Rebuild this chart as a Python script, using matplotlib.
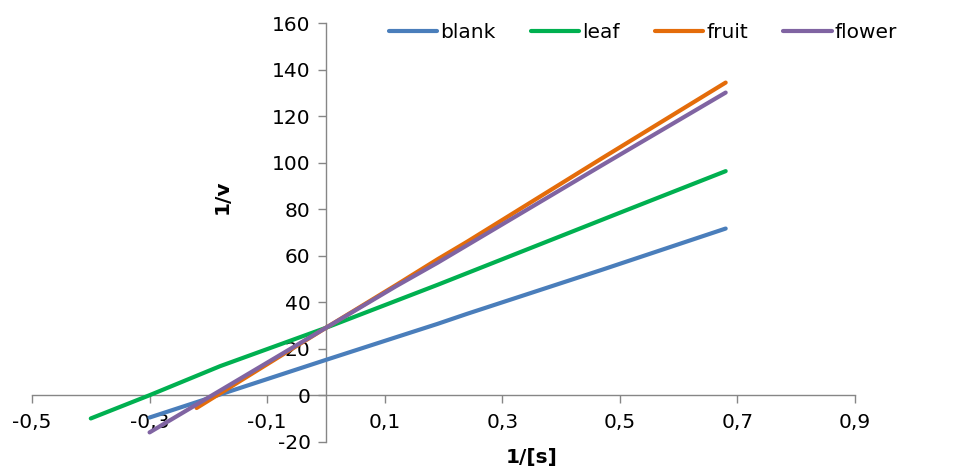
import matplotlib
matplotlib.use("Agg")
import matplotlib.pyplot as plt
from matplotlib.ticker import FixedLocator, FuncFormatter

plt.rcParams['font.family'] = ['DejaVu Sans']

# data
blank_x = [-0.30, 0.0, 0.12, 0.19, 0.24, 0.47, 0.68]
blank_y = [-9.6, 15.2, 25.0, 30.7, 35.0, 54.0, 71.7]

leaf_x = [-0.40, -0.30, -0.18, 0.0, 0.19, 0.47, 0.50, 0.68]
leaf_y = [-10.0, 0.0, 12.5, 29.0, 47.5, 75.5, 78.5, 96.4]

fruit_x = [-0.22, 0.0, 0.12, 0.19, 0.24, 0.47, 0.68]
fruit_y = [-5.5, 29.0, 47.5, 58.5, 66.0, 102.0, 134.5]

flower_x = [-0.30, 0.0, 0.12, 0.19, 0.24, 0.47, 0.68]
flower_y = [-16.0, 29.0, 47.0, 57.0, 64.5, 99.0, 130.2]

series_names = ["blank", "leaf", "fruit", "flower"]
x_ticks = [-0.5, -0.3, -0.1, 0.1, 0.3, 0.5, 0.7, 0.9]
y_ticks = [-20, 0, 20, 40, 60, 80, 100, 120, 140, 160]

colors = ["#4A7EBB", "#00B050", "#E46C0A", "#8064A2"]

W, H = 974, 470
fig = plt.figure(figsize=(W / 100, H / 100), dpi=100)
ax = fig.add_axes([32 / W, 1 - 441.7 / H, (855 - 32) / W, (441.7 - 23.3) / H])

data = [(blank_x, blank_y), (leaf_x, leaf_y), (fruit_x, fruit_y), (flower_x, flower_y)]
handles = []
for (xs, ys), name, c in zip(data, series_names, colors):
    h, = ax.plot(xs, ys, color=c, lw=3.0, solid_capstyle='round',
                 solid_joinstyle='round', label=name)
    handles.append(h)

ax.set_xlim(-0.5, 0.9)
ax.set_ylim(-20, 160)

axis_color = "#868686"
for s in ['top', 'right']:
    ax.spines[s].set_visible(False)
ax.spines['left'].set_position(('data', 0))
ax.spines['bottom'].set_position(('data', 0))
for s in ['left', 'bottom']:
    ax.spines[s].set_color(axis_color)
    ax.spines[s].set_linewidth(1.0)
    ax.spines[s].set_zorder(0)

ax.xaxis.set_major_locator(FixedLocator(x_ticks))
ax.yaxis.set_major_locator(FixedLocator(y_ticks))
ax.xaxis.set_major_formatter(FuncFormatter(lambda v, p: ("%.1f" % v).replace('.', ',')))
ax.yaxis.set_major_formatter(FuncFormatter(lambda v, p: "%d" % v))
ax.tick_params(axis='both', direction='out', length=6, width=1.0, color=axis_color,
               labelsize=14.5, labelcolor='#000000')
ax.tick_params(axis='x', pad=7)
ax.tick_params(axis='y', pad=5)

fig.text(222 / W, 1 - 197 / H, "1/v", rotation=90, fontsize=14.5, fontweight='bold',
         ha='center', va='center')
fig.text(532 / W, 1 - 458 / H, "1/[s]", fontsize=14.5, fontweight='bold',
         ha='center', va='center')

fig.legend(handles=handles, labels=series_names, loc='center left',
           bbox_to_anchor=(389 / W, 1 - 33 / H), bbox_transform=fig.transFigure,
           ncol=4, frameon=False, fontsize=14.5, handlelength=2.4, handletextpad=0.15,
           columnspacing=1.75, borderpad=0, borderaxespad=0)

fig.savefig("out.png", dpi=100)
